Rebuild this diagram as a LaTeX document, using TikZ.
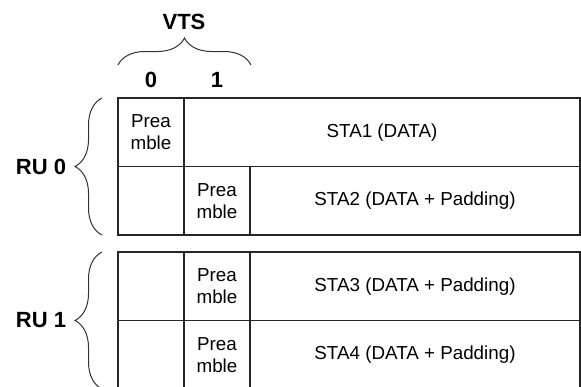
\documentclass[tikz,border=0pt]{standalone}
\usepackage{fontspec}
\setmainfont{Liberation Sans}
\usetikzlibrary{decorations.pathreplacing}

\begin{document}
\begin{tikzpicture}[x=1pt,y=-1pt,
  cell/.style={draw=black!85,line width=1.4pt,inner sep=0pt,outer sep=0pt,
    minimum height=68.5pt,align=center,font=\fontsize{18.8}{22}\selectfont},
  lab/.style={inner sep=0pt,font=\fontsize{22}{24}\selectfont\bfseries},
  brc/.style={decorate,decoration={brace,amplitude=27pt},draw=black!80,line width=1pt}]
\useasboundingbox (0,0) rectangle (581,386);
\clip (0,0) rectangle (581,386);
\node[cell,minimum width=66pt] (pre1) at (151,132.25) {Prea\\mble};
\node[cell,minimum width=396pt] (sta1) at (382,132.25) {STA1 (DATA)};
\node[cell,minimum width=66pt] (nil2) at (151,200.75) {};
\node[cell,minimum width=66pt] (pre2) at (217,200.75) {Prea\\mble};
\node[cell,minimum width=330pt] (sta2) at (415,200.75) {STA2 (DATA + Padding)};
\node[cell,minimum width=66pt] (nil3) at (151,286.25) {};
\node[cell,minimum width=66pt] (pre3) at (217,286.25) {Prea\\mble};
\node[cell,minimum width=330pt] (sta3) at (415,286.25) {STA3 (DATA + Padding)};
\node[cell,minimum width=66pt] (nil4) at (151,354.75) {};
\node[cell,minimum width=66pt] (pre4) at (217,354.75) {Prea\\mble};
\node[cell,minimum width=330pt] (sta4) at (415,354.75) {STA4 (DATA + Padding)};
\node[lab] (vts) at (184,22) {VTS};
\node[lab] (vts0) at (151,80) {0};
\node[lab] (vts1) at (217,80) {1};
\node[lab] (ru0) at (41,167) {RU 0};
\node[lab] (ru1) at (41,320) {RU 1};
\coordinate (vl) at (118,65);
\coordinate (vr) at (251,65);
\coordinate (r0t) at (102,98);
\coordinate (r0b) at (102,235);
\coordinate (r1t) at (102,252);
\coordinate (r1b) at (102,389);
\draw[brc] (vl) -- (vr);
\draw[brc] (r0b) -- (r0t);
\draw[brc] (r1b) -- (r1t);
\end{tikzpicture}
\end{document}
